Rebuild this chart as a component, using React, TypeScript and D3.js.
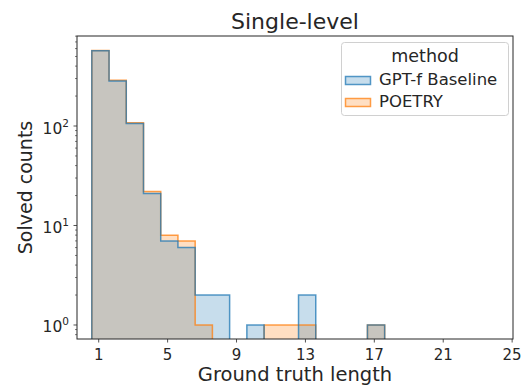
import React, { useRef, useEffect } from 'react';
import * as d3 from 'd3';

// ground-truth lengths (bin centres) and solved counts per method
const lengths = [1, 2, 3, 4, 5, 6, 7, 8, 9, 10, 11, 12, 13, 14, 15, 16, 17];
const baselineCounts = [570, 283, 106, 21, 7, 6, 2, 2, 0, 1, 0, 0, 2, 0, 0, 0, 1];
const poetryCounts = [575, 288, 108, 22, 8, 7, 1, 0, 0, 0, 1, 1, 1, 0, 0, 0, 1];
const xTicks = [1, 5, 9, 13, 17, 21, 25];
const yTicks = [1, 10, 100];
const methods = ['GPT-f Baseline', 'POETRY'];

const App = () => {
  const svgRef = useRef<SVGSVGElement>(null);

  useEffect(() => {
    const width = 523;
    const height = 386;
    const marginTop = 36;
    const marginRight = 10;
    const marginBottom = 47;
    const marginLeft = 77;
    const font = 'DejaVu Sans, sans-serif';
    const ink = '#262626';

    const x = d3.scaleLinear()
      .domain([-0.26, 25.05])
      .range([marginLeft, width - marginRight]);

    const y = d3.scaleLog()
      .domain([0.723, 803])
      .range([height - marginBottom, marginTop]);

    const svg = d3.select(svgRef.current);
    svg.selectAll('*').remove();
    svg
      .attr('width', width)
      .attr('height', height)
      .attr('viewBox', [0, 0, width, height])
      .style('font-family', font);

    const bottom = height - marginBottom;
    const binLeft = (c: number) => c - 0.4;

    // step outline for runs of non-zero bins
    const runs = (counts: number[]) => {
      const out: [number, number][][] = [];
      let cur: [number, number][] | null = null;
      counts.forEach((v, i) => {
        const l = x(binLeft(lengths[i]));
        const r = x(binLeft(lengths[i]) + 1);
        if (v > 0) {
          if (!cur) { cur = [[l, bottom]]; out.push(cur); }
          cur.push([l, y(v)], [r, y(v)]);
        } else if (cur) {
          cur.push([cur[cur.length - 1][0], bottom]);
          cur = null;
        }
      });
      if (cur) cur.push([cur[cur.length - 1][0], bottom]);
      return out;
    };

    const series = [
      { counts: poetryCounts, color: '#ff7f0e' },
      { counts: baselineCounts, color: '#1f77b4' },
    ];

    const line = d3.line();
    const plot = svg.append('g');
    series.forEach(s => {
      plot.append('g')
        .selectAll('path')
        .data(runs(s.counts))
        .join('path')
        .attr('d', d => line(d) + 'Z')
        .attr('fill', s.color)
        .attr('fill-opacity', 0.25)
        .attr('stroke', 'none');
    });
    series.forEach(s => {
      plot.append('g')
        .selectAll('path')
        .data(runs(s.counts))
        .join('path')
        .attr('d', d => line(d))
        .attr('fill', 'none')
        .attr('stroke', s.color)
        .attr('stroke-opacity', 0.75)
        .attr('stroke-width', 1.5);
    });

    // X axis
    const xAxis = svg.append('g');
    xAxis.selectAll('line')
      .data(xTicks)
      .join('line')
      .attr('x1', d => x(d)).attr('x2', d => x(d))
      .attr('y1', bottom).attr('y2', bottom + 3.5)
      .attr('stroke', ink).attr('stroke-width', 0.8);
    xAxis.selectAll('text')
      .data(xTicks)
      .join('text')
      .attr('x', d => x(d))
      .attr('y', bottom + 20.5)
      .attr('text-anchor', 'middle')
      .attr('font-size', 15)
      .attr('fill', ink)
      .text(d => d);

    // Y axis (log, with minor ticks)
    const minor: number[] = [];
    [0.1, 1, 10, 100].forEach(dec => {
      for (let k = 2; k <= 9; k++) {
        const v = dec * k;
        if (v >= y.domain()[0] && v <= y.domain()[1]) minor.push(v);
      }
    });
    const yAxis = svg.append('g');
    yAxis.selectAll('line.minor')
      .data(minor)
      .join('line')
      .attr('class', 'minor')
      .attr('x1', marginLeft - 2).attr('x2', marginLeft)
      .attr('y1', d => y(d)).attr('y2', d => y(d))
      .attr('stroke', ink).attr('stroke-width', 0.6);
    yAxis.selectAll('line.major')
      .data(yTicks)
      .join('line')
      .attr('class', 'major')
      .attr('x1', marginLeft - 3.5).attr('x2', marginLeft)
      .attr('y1', d => y(d)).attr('y2', d => y(d))
      .attr('stroke', ink).attr('stroke-width', 0.8);
    const yLabels = yAxis.selectAll('text')
      .data(yTicks)
      .join('text')
      .attr('x', marginLeft - 8)
      .attr('y', d => y(d) + 7.5)
      .attr('text-anchor', 'end')
      .attr('font-size', 15.5)
      .attr('fill', ink);
    yLabels.append('tspan').text('10');
    yLabels.append('tspan')
      .attr('dy', -7)
      .attr('font-size', 10.5)
      .text(d => String(Math.round(Math.log10(d))));

    // spines
    svg.append('rect')
      .attr('x', marginLeft).attr('y', marginTop)
      .attr('width', width - marginLeft - marginRight)
      .attr('height', height - marginTop - marginBottom)
      .attr('fill', 'none')
      .attr('stroke', ink)
      .attr('stroke-width', 1);

    // titles
    const cx = (marginLeft + width - marginRight) / 2;
    svg.append('text')
      .attr('x', cx).attr('y', 29)
      .attr('text-anchor', 'middle')
      .attr('font-size', 22)
      .attr('fill', ink)
      .text('Single-level');
    svg.append('text')
      .attr('x', cx).attr('y', 380.5)
      .attr('text-anchor', 'middle')
      .attr('font-size', 19.5)
      .attr('fill', ink)
      .text('Ground truth length');
    svg.append('text')
      .attr('transform', `translate(32,${(marginTop + bottom) / 2}) rotate(-90)`)
      .attr('text-anchor', 'middle')
      .attr('font-size', 19)
      .attr('fill', ink)
      .text('Solved counts');

    // legend
    const legend = svg.append('g');
    legend.append('rect')
      .attr('x', 341.5).attr('y', 42.5)
      .attr('width', 167).attr('height', 73)
      .attr('rx', 3)
      .attr('fill', 'white').attr('fill-opacity', 0.8)
      .attr('stroke', '#d0d0d0').attr('stroke-width', 1);
    legend.append('text')
      .attr('x', 425).attr('y', 61.7)
      .attr('text-anchor', 'middle')
      .attr('font-size', 17.5)
      .attr('fill', ink)
      .text('method');
    const legendColors = ['#1f77b4', '#ff7f0e'];
    methods.forEach((m, i) => {
      const ly = 84.5 + i * 22;
      legend.append('rect')
        .attr('x', 345.5).attr('y', ly - 8)
        .attr('width', 25).attr('height', 8)
        .attr('fill', legendColors[i]).attr('fill-opacity', 0.25)
        .attr('stroke', legendColors[i]).attr('stroke-opacity', 0.75)
        .attr('stroke-width', 1.5);
      legend.append('text')
        .attr('x', 379).attr('y', ly)
        .attr('font-size', 16.5)
        .attr('fill', ink)
        .text(m);
    });
  }, []);

  return (
    <div style={{ position: 'absolute', left: 0, top: 0 }}>
      <svg ref={svgRef}></svg>
    </div>
  );
};

export default App;
